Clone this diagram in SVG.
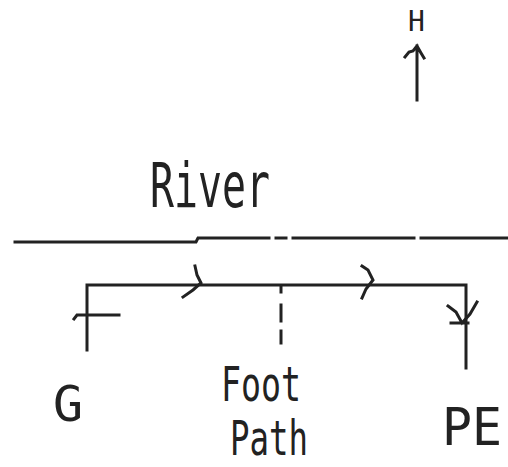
<svg xmlns="http://www.w3.org/2000/svg" width="508" height="467" viewBox="0 0 508 467">
<style>
.ln{fill:none;stroke:#222;stroke-width:3;stroke-linecap:square;stroke-linejoin:miter}
.tx{font-family:"DejaVu Sans Mono","Liberation Mono",monospace;fill:#222}
</style>
<rect width="508" height="467" fill="#fff"/>
<g id="north">
<text class="tx" x="408" y="31" font-size="28">H</text>
<path class="ln" d="M417 100 V46 M405 57 L409 52 L413 51 L417 46 L421 53 L424 58"/>
</g>
<g id="river">
<text class="tx" x="150" y="207" font-size="62" textLength="120" lengthAdjust="spacingAndGlyphs">River</text>
<path class="ln" d="M15 242 H196 L198 238 H269 M276 238 H286 M293 238 H414 M421 238 H507"/>
</g>
<g id="connectors">
<path class="ln" d="M87 350 V285 H466 V368"/>
<path class="ln" d="M74 319 L77 315 H119"/>
<path class="ln" d="M195 266 L197 275 L201 283 L193 290 L183 297"/>
<path class="ln" d="M362 266 L368 270 L373 280 L366 289 L362 298"/>
<path class="ln" d="M448 306 L456 312 L462 323 L470 314 L477 302 M451 323 H468"/>
<path class="ln" d="M281 287 V292 M281 305 V321 M281 331 V343"/>
</g>
<g id="G">
<text class="tx" x="53" y="421" font-size="50">G</text>
</g>
<g id="footpath">
<text class="tx" x="221" y="401" font-size="48" textLength="80" lengthAdjust="spacingAndGlyphs">Foot</text>
<text class="tx" x="230" y="455" font-size="48" textLength="78" lengthAdjust="spacingAndGlyphs">Path</text>
</g>
<g id="PE">
<text class="tx" x="442" y="445" font-size="52" textLength="60" lengthAdjust="spacingAndGlyphs">PE</text>
</g>
</svg>
